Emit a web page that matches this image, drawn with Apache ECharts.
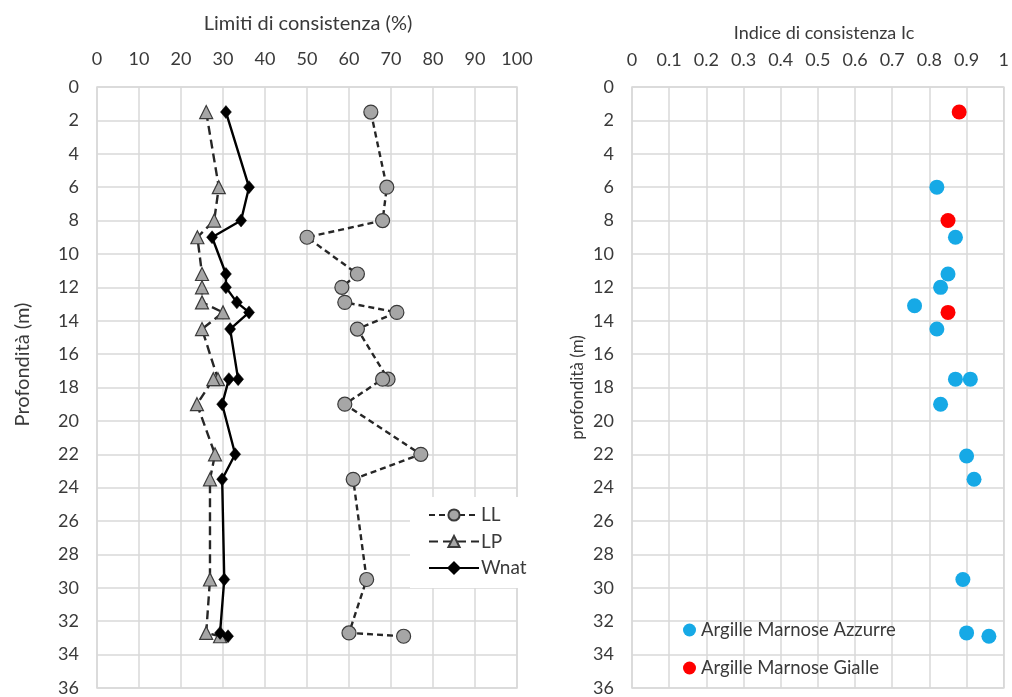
<!DOCTYPE html>
<html><head><meta charset="utf-8">
<script src="https://cdn.jsdelivr.net/npm/echarts@6/dist/echarts.min.js"></script>
<style>html,body{margin:0;padding:0;background:#fff}#c{width:1012px;height:697px}</style>
</head><body><div id="c"></div>
<script>
// Left chart: consistency limits vs depth
const depths = [1.5, 6, 8, 9, 11.2, 12, 12.9, 13.5, 14.5, 17.5, 17.5, 19, 22, 23.5, 29.5, 32.7, 32.9];
const LL   = [65.2, 69, 68, 50, 62, 58.3, 59, 71.4, 62, 69.3, 68, 59, 77.1, 61, 64.2, 60, 73];
const LP   = [26, 29, 27.9, 23.9, 25, 25, 25, 30, 25, 28.8, 27.7, 23.8, 28.1, 26.9, 26.9, 26, 29.3];
const Wnat = [30.7, 36.2, 34.3, 27.4, 30.7, 30.7, 33.3, 36.2, 31.7, 33.6, 31.4, 29.8, 32.9, 29.8, 30.3, 29.3, 31.2];
// Right chart: consistency index
const azzDepth = [6, 9, 11.2, 12, 13.1, 14.5, 17.5, 17.5, 19, 22.1, 23.5, 29.5, 32.7, 32.9];
const azzIc    = [0.82, 0.87, 0.85, 0.83, 0.76, 0.82, 0.87, 0.91, 0.83, 0.90, 0.92, 0.89, 0.90, 0.96];
const gialDepth = [1.5, 8, 13.5];
const gialIc    = [0.88, 0.85, 0.85];
const leftTicks = [0,10,20,30,40,50,60,70,80,90,100];
const rightTicks = [0,0.1,0.2,0.3,0.4,0.5,0.6,0.7,0.8,0.9,1];

const FONT = 'Lato';
const TXT = '#3a3a3a';
const GRIDC = '#d9d9d9';
const pair = (xs, ys) => xs.map((x, i) => [x, ys[i]]);

const chart = echarts.init(document.getElementById('c'));
const yAx = (gi, name, gap, fs, pad) => ({
  type: 'value', gridIndex: gi, inverse: true, min: 0, max: 36, interval: 2,
  name: name, nameLocation: 'middle', nameGap: gap, nameRotate: 90,
  nameTextStyle: {color: TXT, fontFamily: FONT, fontSize: fs, padding: pad},
  axisLine: {show: false}, axisTick: {show: false},
  axisLabel: {color: TXT, fontFamily: FONT, fontSize: 18, margin: 18},
  splitLine: {show: true, lineStyle: {color: GRIDC, width: 1.5}}
});
chart.setOption({
  animation: false,
  textStyle: {fontFamily: FONT},
  title: [
    {text: 'Limiti di consistenza (%)', left: 303, top: 9, textAlign: 'center',
     textStyle: {color: TXT, fontFamily: FONT, fontSize: 20, fontWeight: 'normal'}},
    {text: 'Indice di consistenza Ic', left: 819, top: 19, textAlign: 'center',
     textStyle: {color: TXT, fontFamily: FONT, fontSize: 18, fontWeight: 'normal'}}
  ],
  grid: [
    {left: 97, right: 495, top: 87, bottom: 9, show: true, borderColor: GRIDC, borderWidth: 1.5},
    {left: 632, right: 6, top: 87, bottom: 9, show: true, borderColor: GRIDC, borderWidth: 1.5}
  ],
  xAxis: [
    {type: 'value', gridIndex: 0, position: 'top', min: leftTicks[0], max: leftTicks[leftTicks.length-1], interval: 10,
     axisLine: {show: false}, axisTick: {show: false},
     axisLabel: {color: TXT, fontFamily: FONT, fontSize: 18, margin: 19},
     splitLine: {show: true, lineStyle: {color: GRIDC, width: 1.5}}},
    {type: 'value', gridIndex: 1, position: 'top', min: rightTicks[0], max: rightTicks[rightTicks.length-1], interval: 0.1,
     axisLine: {show: false}, axisTick: {show: false},
     axisLabel: {color: TXT, fontFamily: FONT, fontSize: 18, margin: 18, formatter: v => String(+v.toFixed(1))},
     splitLine: {show: true, lineStyle: {color: GRIDC, width: 1.5}}}
  ],
  yAxis: [yAx(0, 'Profondità (m)', 64, 20, [0, 0, 0, 46]), yAx(1, 'profondità (m)', 46, 17, [0, 0, 0, 0])],
  legend: [
    {orient: 'vertical', left: 410, top: 497, itemGap: 6.5, itemWidth: 50, itemHeight: 14,
     backgroundColor: '#fff', padding: [8, 12, 10, 18],
     textStyle: {color: TXT, fontFamily: FONT, fontSize: 19, lineHeight: 20, padding: [0,0,0,-3]},
     data: ['LL', 'LP', 'Wnat']},
    {orient: 'vertical', left: 683, top: 620, itemGap: 18, itemWidth: 13, itemHeight: 13, padding: 0,
     textStyle: {color: TXT, fontFamily: FONT, fontSize: 18.5, lineHeight: 20},
     data: [{name: 'Argille Marnose Azzurre', icon: 'circle'}, {name: 'Argille Marnose Gialle', icon: 'circle'}]}
  ],
  series: [
    {name: 'LL', type: 'line', xAxisIndex: 0, yAxisIndex: 0, data: pair(LL, depths),
     symbol: 'circle', symbolSize: 14,
     itemStyle: {color: '#a6a6a6', borderColor: '#3a3a3a', borderWidth: 1.2},
     lineStyle: {color: '#262626', width: 2.4, type: [6, 4]}},
    {name: 'LP', type: 'line', xAxisIndex: 0, yAxisIndex: 0, data: pair(LP, depths),
     symbol: 'triangle', symbolSize: [13, 13],
     itemStyle: {color: '#a6a6a6', borderColor: '#3a3a3a', borderWidth: 1.2},
     lineStyle: {color: '#262626', width: 2.4, type: [9, 5]}},
    {name: 'Wnat', type: 'line', xAxisIndex: 0, yAxisIndex: 0, data: pair(Wnat, depths),
     symbol: 'diamond', symbolSize: [11, 13],
     itemStyle: {color: '#000', borderColor: '#000', borderWidth: 0.5},
     lineStyle: {color: '#000', width: 2.4}},
    {name: 'Argille Marnose Azzurre', type: 'scatter', xAxisIndex: 1, yAxisIndex: 1,
     data: pair(azzIc, azzDepth), symbol: 'circle', symbolSize: 15,
     itemStyle: {color: '#16a9e6', opacity: 1}},
    {name: 'Argille Marnose Gialle', type: 'scatter', xAxisIndex: 1, yAxisIndex: 1,
     data: pair(gialIc, gialDepth), symbol: 'circle', symbolSize: 15,
     itemStyle: {color: '#ff0000', opacity: 1}}
  ]
});
</script></body></html>
